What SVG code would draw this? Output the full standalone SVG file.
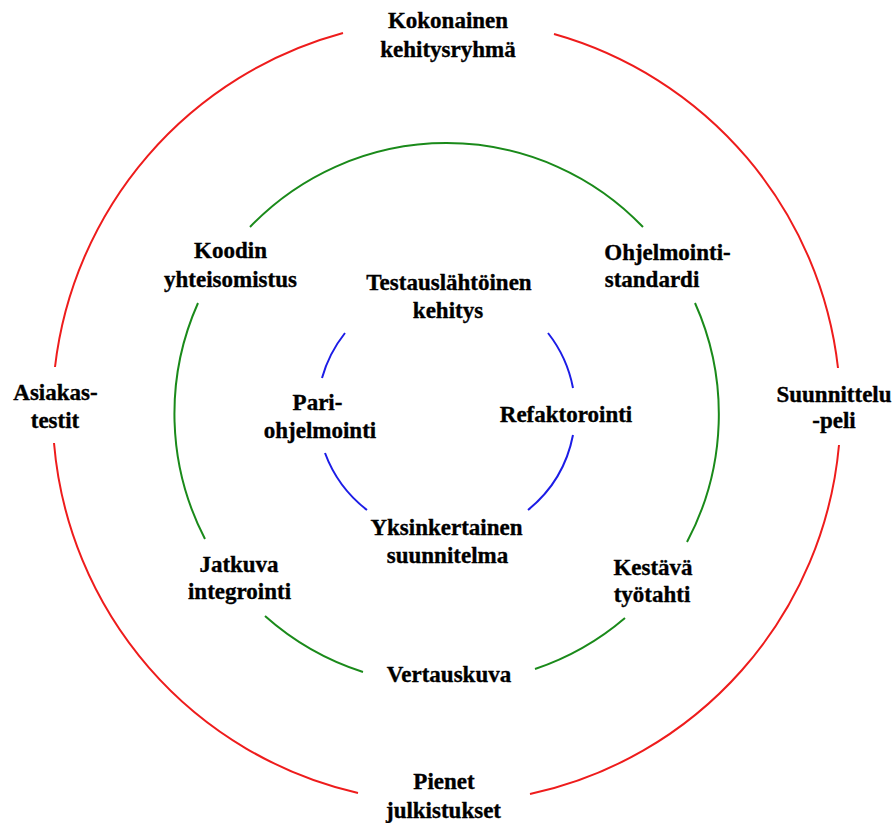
<svg xmlns="http://www.w3.org/2000/svg" width="896" height="823" viewBox="0 0 896 823">
  <style>
    .ring { fill: none; stroke-width: 2; stroke-linecap: butt; }
    .outer { stroke: #ee1c1c; }
    .middle { stroke: #1a8a1a; }
    .inner { stroke: #1c1ce6; }
    text { font-family: "Liberation Serif", "Times New Roman", serif; font-weight: bold; font-size: 23px; fill: #000; stroke: #000; stroke-width: 0.35; text-anchor: middle; }
  </style>
  <rect width="896" height="823" fill="#fff"/>

  <!-- three practice rings, broken where the labels sit -->
  <g id="rings">
    <path class="ring outer" d="M554,34 A393,393 0 0 1 838,368"/>
    <path class="ring outer" d="M839,445 A393,393 0 0 1 530,794"/>
    <path class="ring outer" d="M358,793 A393,393 0 0 1 54,443"/>
    <path class="ring outer" d="M55,367 A393,393 0 0 1 343,33"/>

    <path class="ring middle" d="M250,227 A272,272 0 0 1 643,227"/>
    <path class="ring middle" d="M695,303 A272,272 0 0 1 687,542"/>
    <path class="ring middle" d="M625,618 A272,272 0 0 1 535,669"/>
    <path class="ring middle" d="M363,672 A272,272 0 0 1 265,616"/>
    <path class="ring middle" d="M205,539 A272,272 0 0 1 198,303"/>

    <path class="ring inner" d="M548,333 A128,128 0 0 1 573,388"/>
    <path class="ring inner" d="M573,435 A128,128 0 0 1 528,510"/>
    <path class="ring inner" d="M367,510 A128,128 0 0 1 325,453"/>
    <path class="ring inner" d="M322,378 A128,128 0 0 1 345,333"/>
  </g>

  <!-- outer ring -->
  <g id="kokonainen-kehitysryhma">
    <text x="448" y="28">Kokonainen</text>
    <text x="448" y="57">kehitysryhmä</text>
  </g>
  <g id="suunnittelupeli">
    <text x="834" y="402">Suunnittelu</text>
    <text x="834" y="428">-peli</text>
  </g>
  <g id="pienet-julkistukset">
    <text x="444" y="789">Pienet</text>
    <text x="443.5" y="818">julkistukset</text>
  </g>
  <g id="asiakastestit">
    <text x="55.5" y="400">Asiakas-</text>
    <text x="55" y="428">testit</text>
  </g>

  <!-- middle ring -->
  <g id="koodin-yhteisomistus">
    <text x="230.5" y="258">Koodin</text>
    <text x="230.5" y="287">yhteisomistus</text>
  </g>
  <g id="ohjelmointistandardi">
    <text x="667.5" y="260">Ohjelmointi-</text>
    <text x="652" y="287">standardi</text>
  </g>
  <g id="kestava-tyotahti">
    <text x="653" y="575">Kestävä</text>
    <text x="652" y="602">työtahti</text>
  </g>
  <g id="vertauskuva">
    <text x="449" y="682">Vertauskuva</text>
  </g>
  <g id="jatkuva-integrointi">
    <text x="239" y="572">Jatkuva</text>
    <text x="239.5" y="599">integrointi</text>
  </g>

  <!-- inner ring -->
  <g id="testauslahtoinen-kehitys">
    <text x="449" y="290">Testauslähtöinen</text>
    <text x="448" y="318">kehitys</text>
  </g>
  <g id="refaktorointi">
    <text x="566" y="422">Refaktorointi</text>
  </g>
  <g id="yksinkertainen-suunnitelma">
    <text x="446.5" y="535">Yksinkertainen</text>
    <text x="447.5" y="563">suunnitelma</text>
  </g>
  <g id="pariohjelmointi">
    <text x="317.5" y="410">Pari-</text>
    <text x="320" y="438">ohjelmointi</text>
  </g>
</svg>
